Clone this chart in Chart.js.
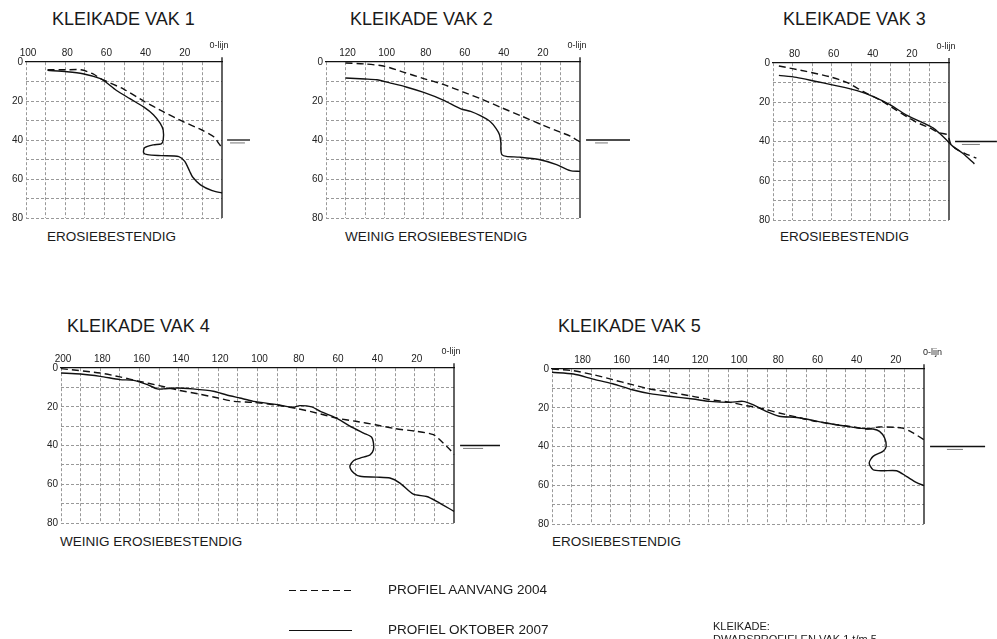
<!DOCTYPE html>
<html>
<head>
<meta charset="utf-8">
<script src="https://cdn.jsdelivr.net/npm/chart.js@4.4.0/dist/chart.umd.min.js"></script>
<style>
    body { margin: 0; width: 997px; height: 639px; overflow: hidden; background: #fff; position: relative;
           font-family: 'Liberation Sans', Arial, sans-serif; color: #1a1a1a; }
    canvas { position: absolute; }
    .titel { position: absolute; font-size: 18px; line-height: 18px; white-space: nowrap; }
    .sub { position: absolute; font-size: 13.5px; line-height: 13.5px; white-space: nowrap; }
    .klein { position: absolute; font-size: 11px; line-height: 11px; white-space: nowrap; }
    svg { position: absolute; left: 0; top: 0; }
</style>
</head>
<body>

<div class="titel" style="left:52px;top:10px">KLEIKADE VAK 1</div>
<div class="titel" style="left:350px;top:10px">KLEIKADE VAK 2</div>
<div class="titel" style="left:783px;top:10px">KLEIKADE VAK 3</div>
<div class="titel" style="left:67px;top:317px">KLEIKADE VAK 4</div>
<div class="titel" style="left:558px;top:317px">KLEIKADE VAK 5</div>

<canvas id="vak1"></canvas>
<canvas id="vak2"></canvas>
<canvas id="vak3"></canvas>
<canvas id="vak4"></canvas>
<canvas id="vak5"></canvas>

<div class="sub" style="left:47px;top:230px">EROSIEBESTENDIG</div>
<div class="sub" style="left:345px;top:230px">WEINIG EROSIEBESTENDIG</div>
<div class="sub" style="left:780px;top:230px">EROSIEBESTENDIG</div>
<div class="sub" style="left:60px;top:535px">WEINIG EROSIEBESTENDIG</div>
<div class="sub" style="left:552px;top:535px">EROSIEBESTENDIG</div>

<svg width="997" height="639">
    <line x1="289" y1="590.5" x2="352" y2="590.5" stroke="#111" stroke-width="1.2" stroke-dasharray="7 4"/>
    <line x1="289" y1="630.5" x2="352" y2="630.5" stroke="#111" stroke-width="1.2"/>
</svg>
<div class="sub" style="left:388px;top:583px">PROFIEL AANVANG 2004</div>
<div class="sub" style="left:388px;top:623px">PROFIEL OKTOBER 2007</div>
<div class="klein" style="left:713px;top:621px">KLEIKADE:</div>
<div class="klein" style="left:713px;top:634px">DWARSPROFIELEN VAK 1 t/m 5</div>

<script>
// --- Data: [afstand t.o.v. 0-lijn, diepte] ---
const vak1Aanvang2004 = [[89,4],[80,4],[72,4],[66,6],[62,8.5],[50,14],[40,20],[30,25.5],[20,30.5],[10,35],[4,38.5],[1.5,42],[0,44]];
const vak1Oktober2007 = [[89,4.3],[79,5],[71,6],[62,8.5],[59,10.5],[54,14.5],[47,18.8],[40,23],[35,27],[31.5,31.5],[30,35],[30,40],
    [31,42],[35,42.5],[39.5,44],[40,46.5],[38,47.5],[31,48],[22,48.5],[19,51],[16.5,56],[15,59],[11,63],[5,66],[0,67.2]];

const vak2Aanvang2004 = [[120,0.5],[110,1],[100,2.2],[90,5.3],[80,8.5],[70,11.5],[60,15.3],[50,19.2],[40,23.5],[30,27.7],[20,32],[10,36],[5,38],[0,41]];
const vak2Oktober2007 = [[120,8.2],[110,8.7],[104,9.1],[97,10.8],[89,12.8],[80,15.6],[70,19.5],[61,24],[56,25.3],[51,27.5],[46,30.5],[43,34],
    [41.2,37.3],[40.5,41.5],[40.5,45],[40,47.5],[37.7,48.4],[31,48.8],[21,50],[12,52.6],[5,55.7],[0,56.1]];

const vak3Aanvang2004 = [[87,1.5],[73,4.3],[61,7],[52,10],[44,14.5],[35,19],[27,24],[17,30],[10,33],[5,35.5],[1,36.5],[0,38.5],[-1,41.5],[-4,44],[-8,46],[-14,48.5]];
const vak3Oktober2007 = [[87,6.3],[78,7.3],[68,9.4],[56,11.9],[47,14.1],[39,17],[30,21.3],[22,26.4],[13,30.6],[8,33.2],[5,35.7],[1.5,39],[-2,42.5],[-7,46],[-13,51.4]];

const vak4Aanvang2004 = [[200,0.3],[180,2.6],[170,4.6],[160,6.9],[150,9.1],[140,11.5],[130,13.4],[120,15.5],[112,17.2],[102,17.8],[90,19.2],[80,20.9],
    [70,23.2],[60,25.8],[50,27.5],[40,29.3],[30,31.3],[19,32.7],[10.5,34.4],[5.5,38.7],[2,42.2],[0,44.7]];
const vak4Oktober2007 = [[200,2.6],[190,3.1],[180,4.3],[170,6],[163,6.4],[156,8.6],[151,10.8],[148,10.8],[141,10.3],[133,10.8],[122.5,12],[116,13.8],
    [109,15.5],[102,17.2],[90,18.9],[82,20.3],[78.4,19.4],[72.4,20.1],[68,22.4],[60,25.8],[53,30],[46,33.6],[42,35.6],[41,38.7],[41,42.2],
    [42.7,44.8],[47.8,46.5],[51,47.7],[53,50.8],[51,54.2],[47.8,55.9],[39.4,56.3],[32.6,56.8],[27.5,59.4],[20.7,65.1],[13.9,66.3],[8.8,68.8],[0,74]];

const vak5Aanvang2004 = [[190,0],[179,0.9],[169,2.9],[159,5.5],[149,8.1],[140,10.3],[130,12],[118,14.1],[109.5,15.8],[99,17.2],[91,18.9],[84,20.1],
    [74,22.7],[65,24.8],[57,26.7],[45,28.7],[36,29.9],[29.5,31],[23,29.9],[11,30.5],[5.6,33],[0,36.5]];
const vak5Oktober2007 = [[190,1.7],[179,2.6],[169,5.2],[159,7.6],[149,10.7],[140,12.7],[130,14.1],[118,15.5],[109.5,16.7],[99,17.2],[92.5,16.7],
    [87.4,18.4],[80.6,21.9],[74,24.4],[65,25],[58.4,26.2],[50,27.9],[41.4,29.3],[33,30.5],[26,31],[22.7,32.2],[20.1,35.6],[19.3,39.9],[21,42.5],
    [26,45.1],[28,48.5],[26,52],[21,52.5],[14,52.5],[9,55.4],[4,58.5],[0,60.2]];

// as-labels
const diepteLabels = [0, 20, 40, 60, 80];
const afstandLabelStap = 20;
const WATERPEIL = 40;

// waterpeil-teken: [lang begin, lang eind, kort begin, kort eind] in afstand
const vakken = [
    { id: 'vak1', max: 100, aanvang: vak1Aanvang2004, oktober: vak1Oktober2007, water: [-2.6, -14.3, -4.1, -11.7] },
    { id: 'vak2', max: 130, aanvang: vak2Aanvang2004, oktober: vak2Oktober2007, water: [-3.1, -25.6, -7.7, -14.3] },
    { id: 'vak3', max: 90,  aanvang: vak3Aanvang2004, oktober: vak3Oktober2007, water: [-3.1, -24.5, -6.6, -15.8] },
    { id: 'vak4', max: 200, aanvang: vak4Aanvang2004, oktober: vak4Oktober2007, water: [-3.1, -23.4, -4.6, -14.8] },
    { id: 'vak5', max: 190, aanvang: vak5Aanvang2004, oktober: vak5Oktober2007, water: [-3.1, -31.2, -11.7, -19.9] }
];

// --- Layout (canvas position / size, label shift) ---
const PLAATS = {
    vak1: { left: 2,   top: 32,  w: 265, h: 192, right: 45, labelOffset: 2,  nul: '0-lijn    ' },
    vak2: { left: 302, top: 32,  w: 330, h: 192, right: 52, labelOffset: 2,  nul: '0-lijn    ' },
    vak3: { left: 749, top: 33,  w: 248, h: 193, right: 48, labelOffset: 2,  nul: '0-lijn    ' },
    vak4: { left: 37,  top: 338, w: 467, h: 191, right: 50, labelOffset: 2,  nul: '0-lijn    ' },
    vak5: { left: 528, top: 339, w: 461, h: 191, right: 65, labelOffset: 11, nul: '0-lijn  ' }
};
const FONT = "'Liberation Sans', Arial, sans-serif";
const GRID_KLEUR = '#999';
const GEEN = 'rgba(0,0,0,0)';

const toPoints = arr => arr.map(([x, y]) => ({ x, y }));

function tekenVak(vak) {
    const pos = PLAATS[vak.id];
    const canvas = document.getElementById(vak.id);
    canvas.width = pos.w;
    canvas.height = pos.h;
    canvas.style.left = pos.left + 'px';
    canvas.style.top = pos.top + 'px';

    const lijn = { showLine: true, pointRadius: 0, borderColor: '#111', borderWidth: 1.4, clip: false, tension: 0.25 };
    const [w0, w1, k0, k1] = vak.water;

    new Chart(canvas, {
        type: 'scatter',
        data: {
            datasets: [
                { ...lijn, label: 'PROFIEL AANVANG 2004', data: toPoints(vak.aanvang), borderDash: [7, 4] },
                { ...lijn, label: 'PROFIEL OKTOBER 2007', data: toPoints(vak.oktober) },
                { ...lijn, label: '0-lijn', data: [{ x: 0, y: -2.5 }, { x: 0, y: 80 }], tension: 0, borderWidth: 1.3 },
                { ...lijn, label: 'waterpeil', data: [{ x: w0, y: WATERPEIL }, { x: w1, y: WATERPEIL }], tension: 0, borderWidth: 1.3 },
                { ...lijn, label: 'waterpeil onder', data: [{ x: k0, y: WATERPEIL + 1.5 }, { x: k1, y: WATERPEIL + 1.5 }],
                  tension: 0, borderWidth: 1, borderColor: '#777' }
            ]
        },
        options: {
            responsive: false,
            animation: false,
            devicePixelRatio: 1,
            layout: { padding: { left: 0, top: 0, right: pos.right, bottom: 6 } },
            plugins: { legend: { display: false }, tooltip: { enabled: false } },
            scales: {
                x: {
                    type: 'linear', position: 'top', reverse: true, min: 0, max: vak.max,
                    afterFit: s => { s.height = 30; s.paddingLeft = 0; s.paddingRight = 0; },
                    border: { display: true, color: '#111', width: 1.2, dash: [3, 2] },
                    grid: {
                        drawTicks: false, lineWidth: 1,
                        color: c => (c.tick && c.tick.value === 0) ? GEEN : GRID_KLEUR
                    },
                    ticks: {
                        stepSize: 10, autoSkip: false, maxRotation: 0, padding: 3, color: '#222',
                        labelOffset: pos.labelOffset,
                        font: c => (c.tick && c.tick.value === 0)
                            ? { family: FONT, size: 9, lineHeight: 1 }
                            : { family: FONT, size: 10 },
                        callback: v => v === 0 ? [pos.nul, ''] : (v % afstandLabelStap === 0 ? String(v) : '')
                    }
                },
                y: {
                    type: 'linear', reverse: true, min: 0, max: 80,
                    afterFit: s => { s.width = 24; s.paddingTop = 0; s.paddingBottom = 0; },
                    border: { display: false, dash: [3, 2] },
                    grid: {
                        drawTicks: false, lineWidth: 1,
                        color: c => (c.tick && c.tick.value === 0) ? GEEN : GRID_KLEUR
                    },
                    ticks: {
                        stepSize: 10, autoSkip: false, padding: 3, color: '#222',
                        font: { family: FONT, size: 10 },
                        callback: v => diepteLabels.includes(v) ? String(v) : ''
                    }
                }
            }
        }
    });
}

vakken.forEach(tekenVak);
</script>
</body>
</html>
